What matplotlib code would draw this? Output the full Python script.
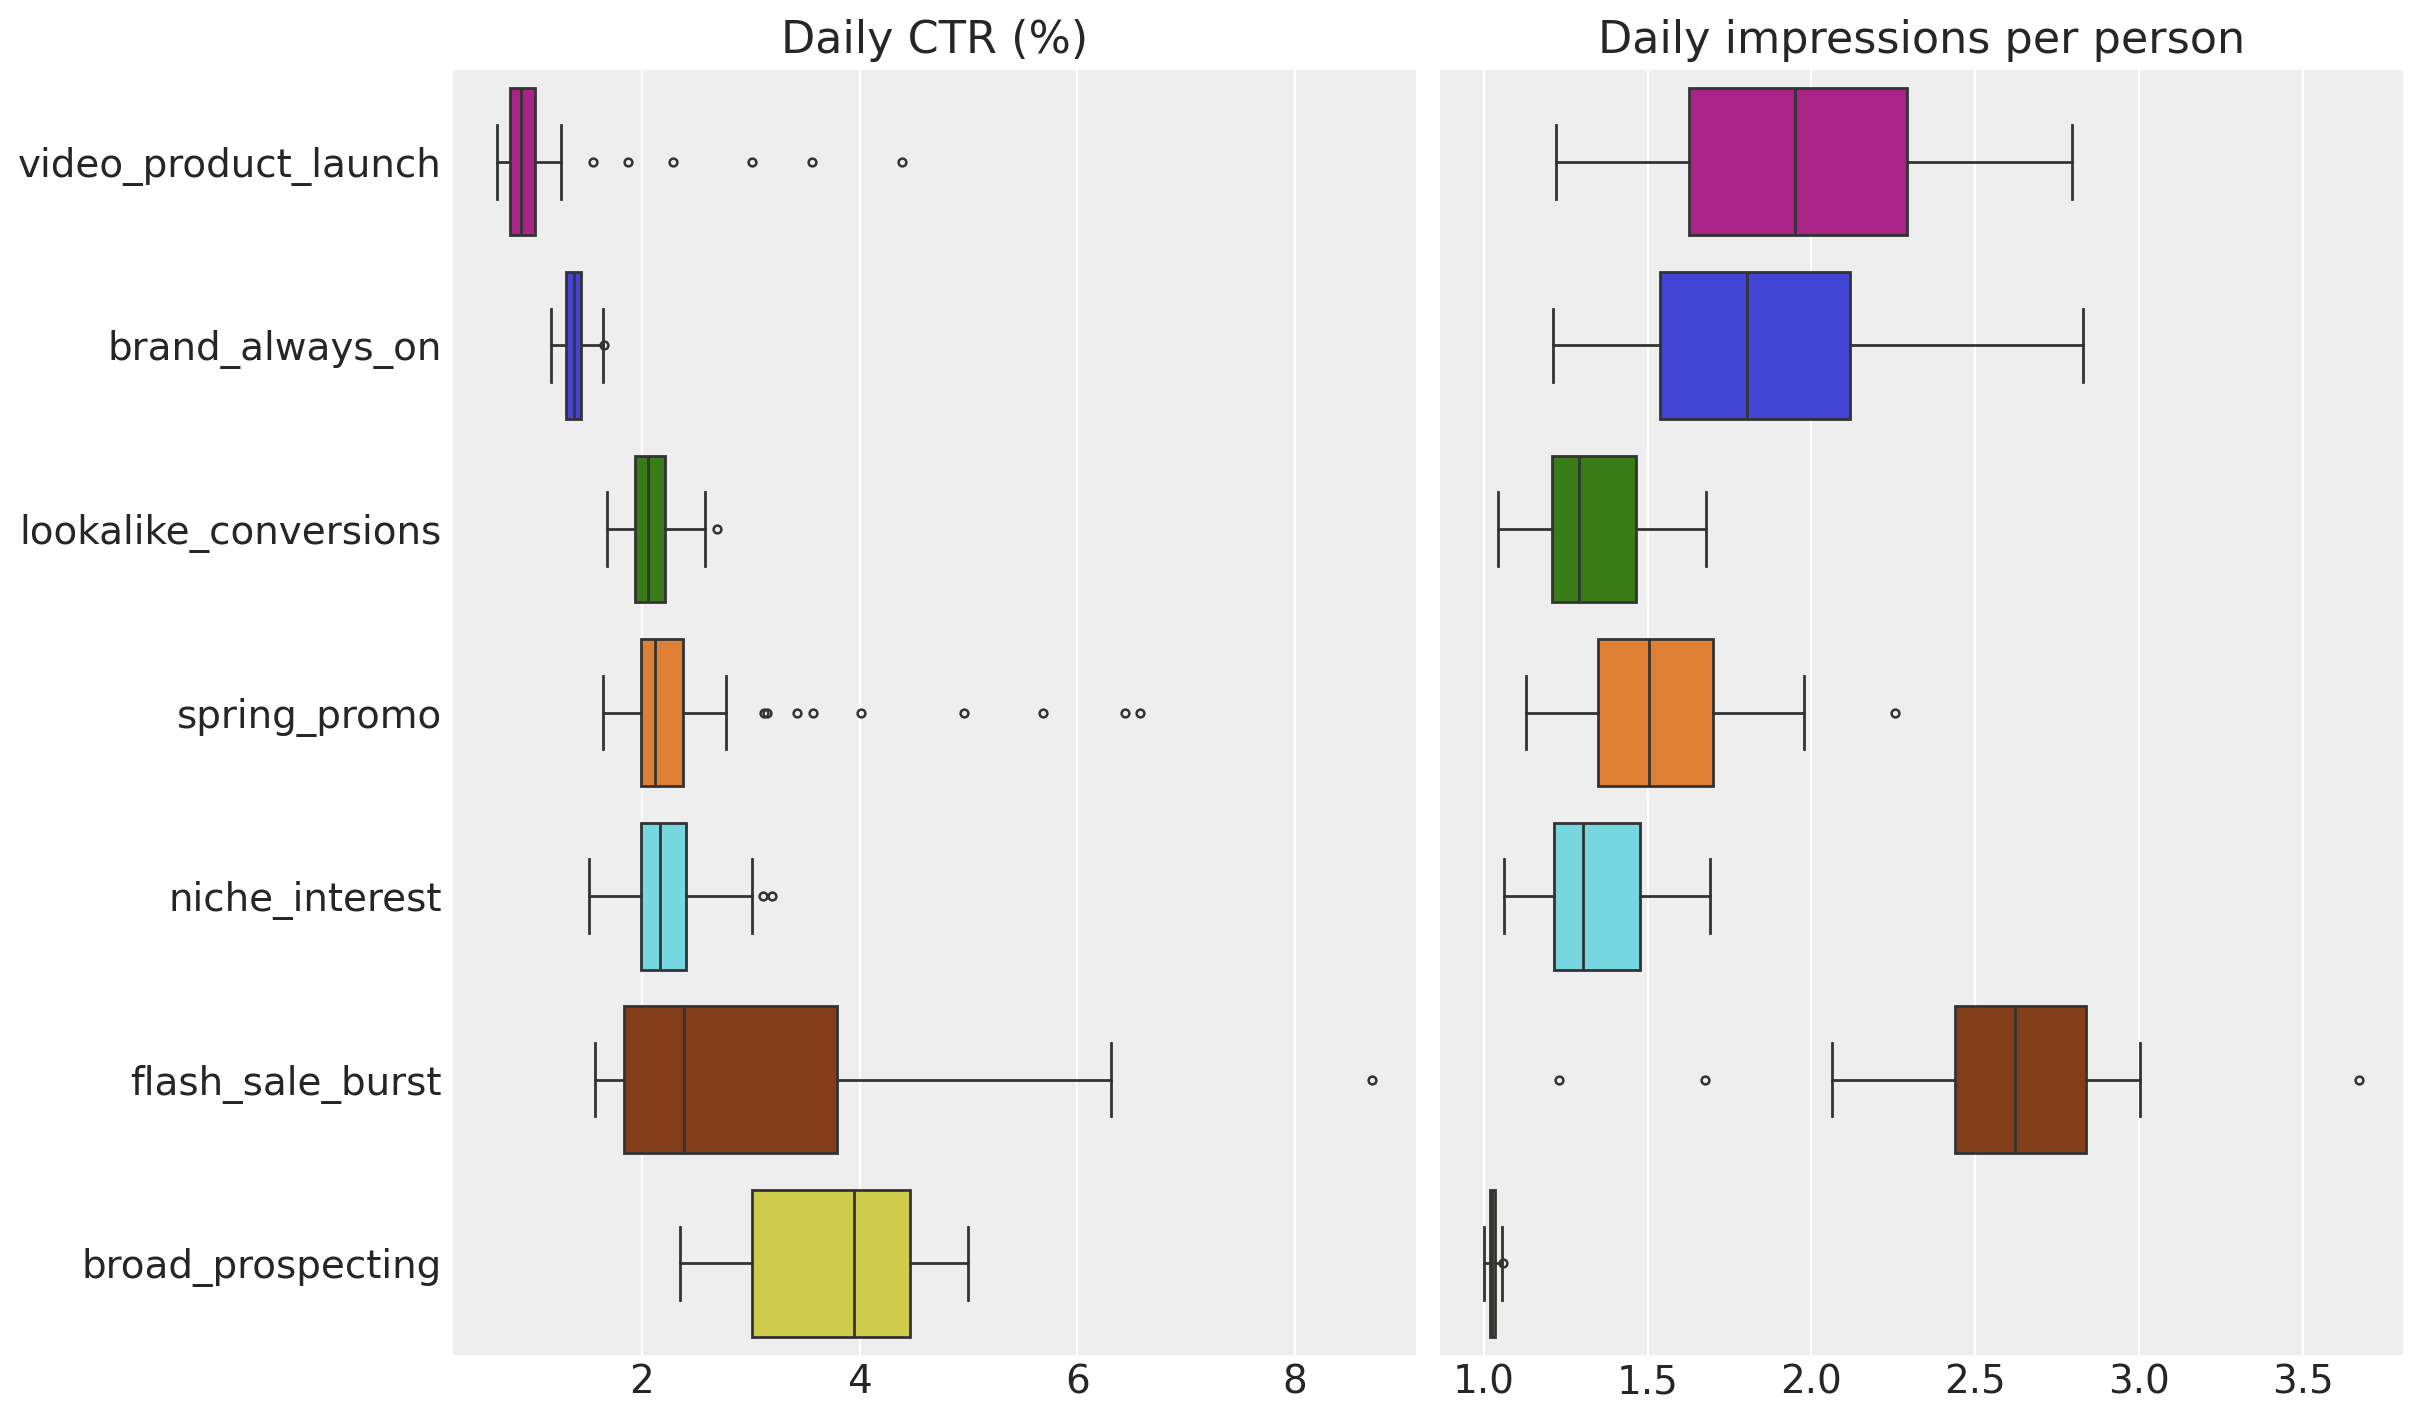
import colorsys
import matplotlib
matplotlib.use("Agg")
import matplotlib.pyplot as plt
from matplotlib.colors import to_rgb

# campaign names, top to bottom
categories = ["video_product_launch", "brand_always_on", "lookalike_conversions",
              "spring_promo", "niche_interest", "flash_sale_burst", "broad_prospecting"]

base_colors = ["#c10c90", "#2a2eec", "#328c06", "#fa7c17", "#65e5f3", "#933708", "#e6e135"]

# Daily CTR (%) box stats
ctr_whislo = [0.665, 1.162, 1.680, 1.642, 1.511, 1.567, 2.346]
ctr_q1 = [0.789, 1.303, 1.933, 1.993, 1.989, 1.831, 3.015]
ctr_med = [0.892, 1.373, 2.051, 2.116, 2.163, 2.388, 3.953]
ctr_q3 = [1.015, 1.444, 2.214, 2.374, 2.402, 3.795, 4.463]
ctr_whishi = [1.254, 1.640, 2.580, 2.772, 3.012, 6.315, 4.996]
ctr_fliers = [[1.548, 1.873, 2.283, 3.009, 3.561, 4.388],
              [1.649],
              [2.693],
              [3.12, 3.15, 3.424, 3.570, 4.010, 4.958, 5.685, 6.435, 6.575],
              [3.110, 3.199],
              [8.712],
              []]

# Daily impressions per person box stats
imp_whislo = [1.220, 1.211, 1.042, 1.128, 1.061, 2.062, 1.000]
imp_q1 = [1.626, 1.538, 1.209, 1.348, 1.215, 2.439, 1.019]
imp_med = [1.949, 1.803, 1.291, 1.505, 1.304, 2.622, 1.026]
imp_q3 = [2.293, 2.119, 1.463, 1.700, 1.478, 2.838, 1.033]
imp_whishi = [2.794, 2.829, 1.679, 1.978, 1.691, 3.003, 1.054]
imp_fliers = [[], [], [], [2.255], [], [1.230, 1.675, 3.672], [1.059]]

LINE = "#333333"
TEXT = "#262626"


def desaturate(c, prop=0.75):
    h, l, s = colorsys.rgb_to_hls(*to_rgb(c))
    return colorsys.hls_to_rgb(h, l, s * prop)


def make_stats(whislo, q1, med, q3, whishi, fliers):
    return [dict(whislo=a, q1=b, med=c, q3=d, whishi=e, fliers=f)
            for a, b, c, d, e, f in zip(whislo, q1, med, q3, whishi, fliers)]


def draw(ax, stats, title):
    ax.set_facecolor("#eeeeee")
    ax.set_axisbelow(True)
    ax.grid(True, axis="x", color="white", linewidth=0.8)
    ax.grid(False, axis="y")
    art = ax.bxp(stats, positions=range(len(stats)), widths=0.8, vert=False,
                 patch_artist=True, manage_ticks=False,
                 boxprops=dict(edgecolor=LINE, linewidth=1.0),
                 medianprops=dict(color=LINE, linewidth=1.0),
                 whiskerprops=dict(color=LINE, linewidth=1.0),
                 capprops=dict(color=LINE, linewidth=1.0),
                 flierprops=dict(marker="o", markersize=2.8, markerfacecolor="none",
                                 markeredgecolor=LINE, markeredgewidth=0.9))
    for patch, col in zip(art["boxes"], base_colors):
        patch.set_facecolor(desaturate(col))
    ax.set_ylim(len(stats) - 0.5, -0.5)
    ax.set_yticks(range(len(stats)))
    for sp in ax.spines.values():
        sp.set_visible(False)
    ax.tick_params(axis="both", length=0, labelsize=14, colors=TEXT)
    ax.tick_params(axis="y", pad=4.0)
    ax.tick_params(axis="x", pad=3.0)
    ax.set_title(title, fontsize=16, color=TEXT)


fig = plt.figure(figsize=(12.115, 7.115), dpi=200)
W, H = 2423, 1423
top, bottom = 70, 1355
ax1 = fig.add_axes([453 / W, 1 - bottom / H, (1416 - 453) / W, (bottom - top) / H])
ax2 = fig.add_axes([1440 / W, 1 - bottom / H, (2403 - 1440) / W, (bottom - top) / H])

draw(ax1, make_stats(ctr_whislo, ctr_q1, ctr_med, ctr_q3, ctr_whishi, ctr_fliers), "Daily CTR (%)")
draw(ax2, make_stats(imp_whislo, imp_q1, imp_med, imp_q3, imp_whishi, imp_fliers), "Daily impressions per person")

ax1.set_yticklabels(categories)
ax2.set_yticklabels([])
ax1.set_xticks([2, 4, 6, 8])
ax2.set_xticks([1.0, 1.5, 2.0, 2.5, 3.0, 3.5])
ax2.set_xticklabels(["1.0", "1.5", "2.0", "2.5", "3.0", "3.5"])
ax1.set_xlim(0.263, 9.114)
ax2.set_xlim(0.866, 3.806)

fig.savefig("out.png", dpi=200)
